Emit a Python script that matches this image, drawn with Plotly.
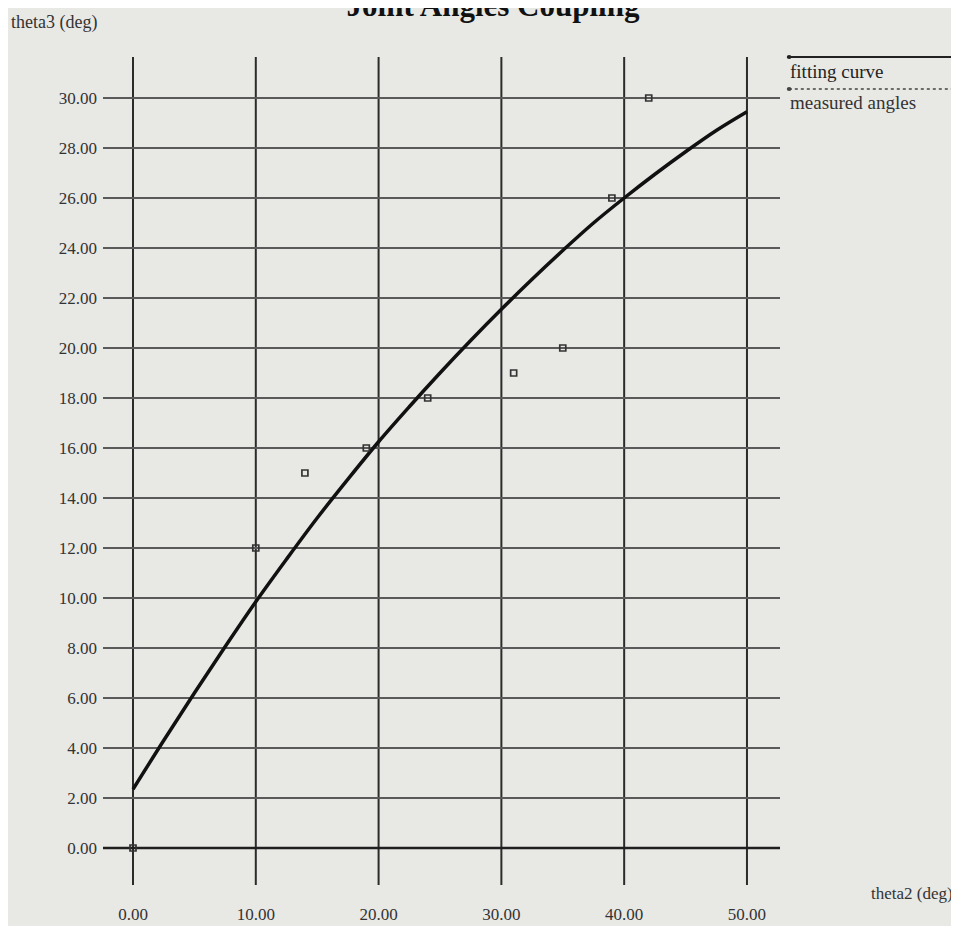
import plotly.graph_objects as go

# ---- data ----
measured_theta2 = [0, 10, 14, 19, 24, 31, 35, 39, 42]
measured_theta3 = [0, 12, 15, 16, 18, 19, 20, 26, 30]

fit_theta2 = [0, 2.5, 5, 7.5, 10, 12.5, 15, 17.5, 20, 22.5, 25, 27.5, 30,
              32.5, 35, 37.5, 40, 42.5, 45, 47.5, 50]
fit_theta3 = [2.35, 4.3, 6.2, 8.05, 9.85, 11.55, 13.2, 14.75, 16.25, 17.65, 19.0,
              20.3, 21.55, 22.75, 23.9, 25.0, 26.0, 26.95, 27.85, 28.7, 29.45]

x_ticks = [0, 10, 20, 30, 40, 50]
y_ticks = [0, 2, 4, 6, 8, 10, 12, 14, 16, 18, 20, 22, 24, 26, 28, 30]

title_text = "Joint Angles Coupling"
x_title = "theta2 (deg)"
y_title = "theta3 (deg)"
legend_names = ["fitting curve", "measured angles"]

SERIF = "Liberation Serif, Times New Roman, serif"
BG = "#e8e8e5"

FIG_W, FIG_H = 951, 918   # page body margin of 8px adds the rest
PLOT_H = 828

def py(p):
    """screen pixel row -> paper y (plot bottom sits at screen row 885)"""
    return (885 - p) / PLOT_H

fig = go.Figure()

shapes = []
for xv in x_ticks:
    shapes.append(dict(type="line", xref="x", yref="paper", x0=xv, x1=xv, y0=0, y1=1,
                       line=dict(color="#2b2b2b", width=2), layer="below"))
for yv in y_ticks:
    shapes.append(dict(type="line", xref="paper", yref="y", x0=0, x1=1, y0=yv, y1=yv,
                       line=dict(color="#1f1f1f" if yv == 0 else "#5a5a5a",
                                 width=2.5 if yv == 0 else 1.8), layer="below"))

fig.add_trace(go.Scatter(
    x=fit_theta2, y=fit_theta3, mode="lines", name=legend_names[0],
    line=dict(color="#111111", width=3.5, shape="spline", smoothing=1.0),
    showlegend=False))

fig.add_trace(go.Scatter(
    x=measured_theta2, y=measured_theta3, mode="markers", name=legend_names[1],
    marker=dict(symbol="square-open", size=6, color="#333333", line=dict(width=1.7)),
    showlegend=False))

# custom legend (line above the text, as in the reference)
shapes.append(dict(type="line", xref="paper", yref="paper", x0=1.013, x1=1.27,
                   y0=py(57), y1=py(57), line=dict(color="#222222", width=2)))
shapes.append(dict(type="line", xref="paper", yref="paper", x0=1.013, x1=1.27,
                   y0=py(89), y1=py(89), line=dict(color="#444444", width=1.5, dash="dot")))
shapes.append(dict(type="circle", xref="paper", yref="paper",
                   x0=1.010, x1=1.017, y0=py(55), y1=py(59),
                   fillcolor="#222222", line=dict(width=0)))
shapes.append(dict(type="circle", xref="paper", yref="paper",
                   x0=1.010, x1=1.017, y0=py(87), y1=py(91),
                   fillcolor="#444444", line=dict(width=0)))

annotations = [
    dict(text=legend_names[0], xref="paper", yref="paper", x=1.012, y=py(72),
         xanchor="left", yanchor="middle", showarrow=False,
         font=dict(family=SERIF, size=19, color="#222222")),
    dict(text=legend_names[1], xref="paper", yref="paper", x=1.012, y=py(102),
         xanchor="left", yanchor="middle", showarrow=False,
         font=dict(family=SERIF, size=19, color="#333333")),
    dict(text=y_title, xref="paper", yref="paper", x=-0.139, y=py(22),
         xanchor="left", yanchor="middle", showarrow=False,
         font=dict(family=SERIF, size=18, color="#333333")),
    dict(text=x_title, xref="paper", yref="paper", x=1.258, y=py(893),
         xanchor="right", yanchor="middle", showarrow=False,
         font=dict(family=SERIF, size=17, color="#333333")),
]

fig.update_layout(
    width=FIG_W, height=FIG_H,
    margin=dict(l=95, r=179, t=49, b=FIG_H - 49 - PLOT_H),
    paper_bgcolor=BG, plot_bgcolor=BG,
    title=dict(text="<b>" + title_text + "</b>", x=0.51, xanchor="center",
               y=1 - 8 / FIG_H, yanchor="bottom", yref="container",
               font=dict(family=SERIF, size=31, color="#111111")),
    shapes=shapes, annotations=annotations,
    showlegend=False,
    xaxis=dict(range=[-2.443, 52.69], tickvals=x_ticks, tickformat=".2f",
               showgrid=False, zeroline=False, showline=False, automargin=False,
               ticklabelstandoff=17,
               tickfont=dict(family=SERIF, size=17, color="#333333")),
    yaxis=dict(range=[-1.48, 31.64], tickvals=y_ticks, tickformat=".2f",
               showgrid=False, zeroline=False, showline=False, automargin=False,
               ticklabelstandoff=5,
               tickfont=dict(family=SERIF, size=17, color="#333333")),
)

fig.write_html("out.html")
